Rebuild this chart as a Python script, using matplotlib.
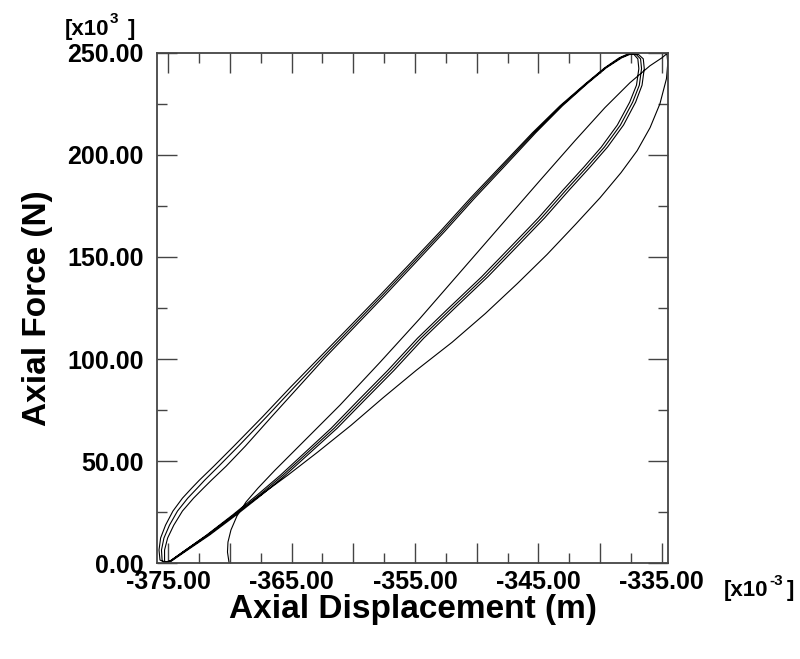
import matplotlib
matplotlib.use("Agg")
import matplotlib.pyplot as plt
from matplotlib.ticker import MultipleLocator, FuncFormatter

plt.rcParams['font.family'] = ['Liberation Sans', 'DejaVu Sans']
plt.rcParams['font.weight'] = 'bold'

# -----------------------------
# data (displacement in 1e-3 m, force in 1e3 N)
# -----------------------------
# first loading from rest
init_x = [-370.08, -370.20, -370.16, -369.92, -369.43, -368.70, -367.73, -366.35, -364.33,
          -361.09, -357.84, -354.60, -351.36, -348.12, -344.88, -342.04, -339.61, -337.58,
          -335.96, -334.99, -334.59]
init_y = [0.6, 5.5, 10.4, 16.3, 23.2, 30.0, 36.8, 45.6, 57.8, 77.4, 98.4, 119.9, 142.4,
          164.9, 187.4, 206.9, 223.1, 235.3, 243.6, 247.5, 249.5]

# first unloading (outer right curve)
outer_x = [-334.51, -334.62, -335.15, -335.95, -337.00, -338.30, -340.00, -342.00, -344.30,
           -346.70, -349.30, -352.00, -354.90, -357.60, -360.20, -362.90, -365.30, -367.50,
           -369.70, -371.85, -373.60, -374.85, -375.30]
outer_y = [245.1, 237.3, 225.0, 213.3, 202.0, 191.3, 179.0, 165.9, 151.2, 137.0, 122.3,
           108.2, 94.5, 81.0, 67.5, 54.4, 43.2, 33.4, 23.6, 13.8, 6.5, 1.1, 0.5]

# loading branches (upper left), three cycles
up_y = [1.6, 6.5, 12.4, 18.7, 25.6, 31.9, 36.8, 40.7, 47.6, 57.4, 71.6, 86.3, 100.9, 116.1,
        131.3, 146.8, 162.4, 178.6, 194.7, 210.8, 224.0, 234.8, 242.6, 247.5, 249.4, 249.2, 247.0]
up_x1 = [-375.67, -375.75, -375.62, -375.22, -374.62, -373.85, -373.10, -372.48, -371.30,
         -369.68, -367.38, -365.08, -362.72, -360.27, -357.83, -355.40, -352.97, -350.54,
         -348.01, -345.48, -343.25, -341.19, -339.63, -338.45, -337.75, -337.26, -336.94]
up_x2 = [-375.50, -375.55, -375.35, -374.90, -374.25, -373.42, -372.65, -372.05, -370.90,
         -369.30, -367.05, -364.78, -362.48, -360.06, -357.63, -355.21, -352.79, -350.37,
         -347.86, -345.35, -343.15, -341.12, -339.57, -338.35, -337.62, -337.08, -336.72]
up_x3 = [-375.30, -375.30, -375.05, -374.55, -373.85, -372.95, -372.15, -371.50, -370.30,
         -368.75, -366.65, -364.45, -362.26, -359.85, -357.43, -355.02, -352.61, -350.20,
         -347.70, -345.22, -343.05, -341.05, -339.50, -338.25, -337.50, -336.90, -336.50]

# unloading branches (lower right), three cycles
lo_y = [242.2, 234.1, 225.8, 214.6, 203.8, 194.1, 182.8, 169.1, 155.9, 140.3, 124.8, 110.2,
        94.5, 79.8, 66.1, 54.4, 43.2, 33.4, 23.6, 13.8, 6.5, 1.1, 0.6]
lo_x1 = [-336.86, -337.05, -337.60, -338.60, -339.90, -341.30, -343.00, -345.00, -347.10,
         -349.60, -352.30, -354.80, -357.20, -359.60, -361.80, -363.90, -365.90, -367.80,
         -369.80, -371.90, -373.60, -374.86, -375.35]
lo_x2 = [-336.64, -336.82, -337.36, -338.35, -339.65, -341.05, -342.75, -344.75, -346.85,
         -349.35, -352.05, -354.55, -356.95, -359.35, -361.56, -363.68, -365.70, -367.62,
         -369.65, -371.78, -373.52, -374.80, -375.28]
lo_x3 = [-336.42, -336.60, -337.12, -338.10, -339.40, -340.80, -342.50, -344.50, -346.60,
         -349.10, -351.80, -354.30, -356.70, -359.10, -361.32, -363.46, -365.50, -367.45,
         -369.50, -371.66, -373.44, -374.74, -375.21]

# -----------------------------
# figure
# -----------------------------
fig = plt.figure(figsize=(8.0, 6.59), dpi=100)
ax = fig.add_axes([0.1966, 0.1452, 0.6388, 0.7748])

segments = [(init_x, init_y), (outer_x, outer_y),
            (up_x1, up_y), (lo_x1, lo_y),
            (up_x2, up_y), (lo_x2, lo_y),
            (up_x3, up_y), (lo_x3, lo_y)]
px, py = [], []
for sx, sy in segments:
    px += list(sx)
    py += list(sy)
ax.plot(px, py, color='black', lw=0.8)

ax.set_xlim(-375.89, -334.47)
ax.set_ylim(0, 250)

ax.xaxis.set_major_locator(MultipleLocator(5))
ax.xaxis.set_minor_locator(MultipleLocator(2.5))
ax.yaxis.set_major_locator(MultipleLocator(50))
ax.yaxis.set_minor_locator(MultipleLocator(25))


def xfmt(v, pos):
    # only every other major tick carries a label
    if abs(((v + 375) / 10) - round((v + 375) / 10)) < 1e-6:
        return f'{v:.2f}'
    return ''


ax.xaxis.set_major_formatter(FuncFormatter(xfmt))
ax.yaxis.set_major_formatter(FuncFormatter(lambda v, p: f'{v:.2f}'))

edge = '#444444'
for s in ax.spines.values():
    s.set_color(edge)
    s.set_linewidth(1.3)
ax.tick_params(which='both', direction='in', top=True, right=True, color=edge, width=1.0)
ax.tick_params(which='major', length=14.5)
ax.tick_params(which='minor', length=7.2)
ax.tick_params(axis='x', which='major', pad=5, labelsize=18)
ax.tick_params(axis='y', which='major', pad=10, labelsize=18)

ax.set_xlabel('Axial Displacement (m)', fontsize=24, fontweight='bold', labelpad=0)
ax.set_ylabel('Axial Force (N)', fontsize=24, fontweight='bold', labelpad=10)

# scale markers
W, H = 800.0, 659.0
fig.text(65 / W, 1 - 35 / H, '[x10', fontsize=16, fontweight='bold', ha='left', va='baseline')
fig.text(110 / W, 1 - 23 / H, '3', fontsize=11, fontweight='bold', ha='left', va='baseline')
fig.text(128 / W, 1 - 35 / H, ']', fontsize=16, fontweight='bold', ha='left', va='baseline')

fig.text(724 / W, 1 - 596 / H, '[x10', fontsize=16, fontweight='bold', ha='left', va='baseline')
fig.text(769 / W, 1 - 585 / H, '-3', fontsize=11, fontweight='bold', ha='left', va='baseline')
fig.text(787 / W, 1 - 596 / H, ']', fontsize=16, fontweight='bold', ha='left', va='baseline')

fig.savefig('out.png', dpi=100)
